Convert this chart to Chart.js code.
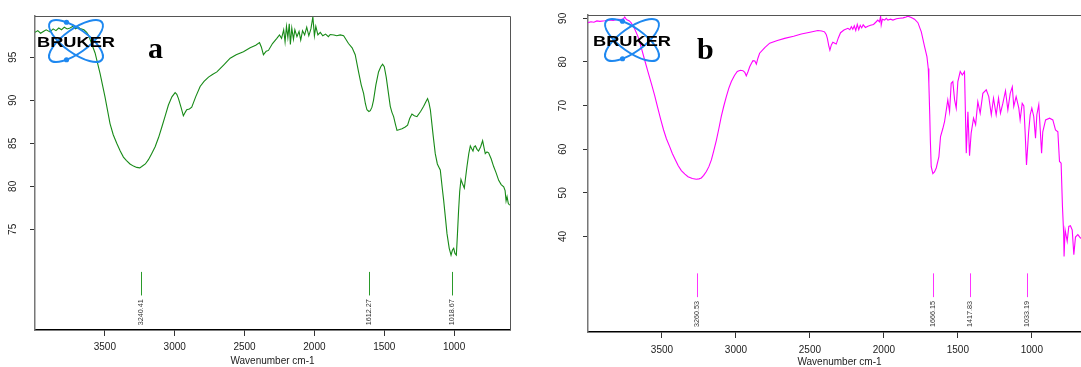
<!DOCTYPE html>
<html><head><meta charset="utf-8">
<script src="https://cdn.jsdelivr.net/npm/chart.js@4.4.1/dist/chart.umd.min.js"></script>
<style>
html,body{margin:0;padding:0;overflow:hidden;background:#fff;width:1081px;height:367px}
#wa{position:absolute;left:0;top:0;width:540px;height:367px}
#wb{position:absolute;left:540px;top:0;width:560px;height:367px}
</style></head><body>
<div id="wa"><canvas id="ca" width="540" height="367"></canvas></div>
<div id="wb"><canvas id="cb" width="560" height="367"></canvas></div>
<script>
const xTicks = [3500, 3000, 2500, 2000, 1500, 1000];
const yTicksA = [75, 80, 85, 90, 95];
const yTicksB = [40, 50, 60, 70, 80, 90];
const peaksA = [3240.41, 1612.27, 1018.67];
const peaksB = [3260.53, 1666.15, 1417.83, 1033.19];

const wnA = [4000,3980,3960,3940,3920,3893,3870,3850,3830,3810,3790,3770,3749,3730,3710,3690,3678,3650,3630,3618,3595,3570,3534,3499,3463,3440,3415,3390,3367,3345,3320,3295,3272,3250,3236,3210,3188,3165,3140,3115,3092,3068,3045,3020,2997,2985,2973,2955,2938,2925,2914,2895,2878,2850,2818,2790,2758,2730,2698,2650,2603,2560,2508,2460,2420,2393,2380,2365,2345,2329,2300,2269,2250,2235,2220,2210,2200,2190,2180,2172,2162,2150,2140,2125,2110,2098,2085,2070,2055,2040,2025,2011,2000,1990,1975,1958,1940,1920,1900,1887,1860,1840,1815,1791,1775,1756,1730,1708,1684,1665,1648,1635,1624,1610,1600,1588,1577,1560,1541,1525,1512,1500,1486,1470,1457,1445,1433,1420,1409,1390,1373,1350,1333,1318,1302,1285,1266,1240,1218,1200,1190,1180,1170,1150,1135,1120,1108,1099,1085,1075,1062,1051,1035,1022,1012,1003,994,984,976,968,960,951,940,927,918,908,895,884,875,865,857,848,836,825,810,796,786,777,765,753,735,717,700,681,663,645,635,628,621,612,602];
const tA = [97.9,98.1,97.8,98.0,98.2,97.95,98.3,98.1,98.4,98.2,98.5,98.3,98.4,98.6,98.3,98.5,98.35,98.2,97.9,97.6,96.6,95.5,93.1,90.4,87.3,86.0,85.0,84.1,83.4,83.0,82.6,82.35,82.2,82.15,82.3,82.6,83.1,83.8,84.6,85.7,86.9,88.2,89.45,90.4,90.9,90.7,90.2,89.2,88.2,88.6,88.9,89.0,89.2,90.4,91.6,92.2,92.7,93.0,93.3,94.1,94.9,95.3,95.65,96.1,96.4,96.7,96.2,95.3,95.7,95.8,96.6,97.2,97.6,97.2,98.2,96.8,98.6,97.3,98.9,96.5,98.4,97.1,98.2,97.4,98.0,97.0,98.1,97.6,98.5,97.5,98.3,99.7,97.5,98.6,97.6,97.9,97.5,97.7,97.4,97.65,97.6,97.5,97.6,97.5,97.1,96.6,96.1,95.3,93.3,91.8,90.8,89.6,88.9,88.7,88.8,89.2,90.0,91.8,93.3,93.9,94.2,93.9,92.7,90.8,89.3,88.6,88.1,87.2,86.5,86.6,86.7,86.9,87.1,87.9,88.4,88.2,88.1,88.7,89.3,89.9,90.2,89.7,88.9,85.9,83.8,82.6,82.2,81.9,79.8,78.4,76.3,74.5,72.8,72.0,72.6,72.8,72.2,72.0,74.5,77.2,79.4,80.8,80.3,79.8,81.0,82.3,83.8,84.7,84.4,84.1,84.6,84.7,84.3,84.1,84.6,85.3,84.5,83.8,84.0,83.9,83.2,82.3,81.6,80.7,80.2,79.95,79.5,78.3,78.8,78.0,77.8];

const wnB = [4000,3980,3960,3940,3920,3887,3860,3830,3797,3775,3760,3752,3740,3720,3707,3685,3662,3640,3617,3595,3572,3550,3531,3510,3489,3470,3448,3430,3409,3390,3369,3345,3324,3295,3268,3250,3234,3218,3200,3183,3166,3150,3132,3115,3099,3082,3065,3048,3031,3010,2991,2970,2953,2940,2930,2918,2907,2895,2885,2872,2862,2852,2840,2805,2772,2720,2671,2610,2558,2500,2446,2420,2401,2390,2382,2372,2365,2355,2345,2332,2322,2308,2293,2270,2243,2230,2220,2210,2200,2190,2180,2170,2160,2150,2140,2125,2108,2090,2070,2055,2041,2030,2022,2018,2010,1995,1984,1973,1955,1939,1915,1894,1870,1850,1838,1815,1793,1770,1747,1725,1709,1700,1696,1690,1686,1680,1669,1658,1646,1628,1617,1601,1590,1578,1568,1556,1545,1534,1522,1511,1500,1484,1470,1455,1443,1432,1421,1410,1394,1380,1365,1349,1331,1308,1291,1274,1259,1241,1225,1212,1196,1178,1162,1146,1132,1122,1106,1088,1079,1065,1054,1045,1036,1022,1011,1000,987,975,966,953,943,934,926,907,880,858,840,824,813,802,793,785,782,775,761,750,739,727,716,705,689,671,650];
const tB = [89.0,89.2,89.1,89.4,89.3,89.45,89.6,89.5,89.8,89.7,89.9,90.3,89.7,89.4,88.9,87.6,85.8,83.3,80.45,77.8,75.1,72.4,69.8,67.0,64.4,62.4,60.6,59.0,57.55,56.2,55.1,54.3,53.7,53.3,53.1,53.2,53.4,54.0,54.9,56.0,57.55,59.6,62.1,64.8,67.5,69.9,72.05,74.0,75.5,76.9,77.8,78.1,78.0,77.6,76.8,77.8,78.9,79.7,80.3,80.2,79.5,80.8,82.0,83.3,84.3,84.9,85.4,85.9,86.4,86.8,87.2,87.1,86.9,86.3,85.4,83.6,82.7,83.9,84.5,84.3,84.1,85.5,86.7,87.3,87.7,87.4,88.1,87.5,88.3,87.2,88.6,87.4,88.4,87.8,88.5,87.9,88.2,88.4,88.6,89.1,89.6,89.2,90.5,88.5,89.8,89.6,90.0,89.6,89.8,89.6,89.9,90.0,90.1,90.3,90.5,90.2,89.8,89.0,86.9,83.5,81.2,78.5,75.1,68.0,62.1,56.0,54.4,54.8,55.7,58.3,62.9,64.8,66.3,69.0,71.3,68.6,75.1,75.5,71.3,69.4,75.5,77.8,77.0,77.8,59.1,68.6,58.5,63.7,67.1,65.6,70.9,68.25,72.8,73.6,72.05,67.9,71.7,67.9,71.7,68.25,70.5,73.4,69.0,72.8,74.3,69.8,72.05,69.4,66.7,70.5,69.9,63.7,56.4,63.7,67.9,69.4,67.5,62.5,67.9,70.2,64.4,59.1,64.0,66.7,67.1,66.7,64.4,64.0,57.2,56.8,46.9,40.8,35.4,41.5,38.9,42.3,42.45,41.5,35.8,39.85,40.4,39.6,39.8];

const FONT = '"Liberation Sans", Arial, sans-serif';

function drawLogo(ctx, cx, cy) {
  ctx.save();
  ctx.strokeStyle = '#1e88f0';
  ctx.fillStyle = '#1e88f0';
  ctx.lineWidth = 2;
  const A = 32, B = 12, TH = 0.62;
  ctx.beginPath(); ctx.ellipse(cx, cy, A, B, TH, 0, Math.PI * 2); ctx.stroke();
  ctx.beginPath(); ctx.ellipse(cx, cy, A, B, -TH, 0, Math.PI * 2); ctx.stroke();
  // dots on the orbits, near their top / bottom
  const pt = (th, t) => [cx + A * Math.cos(t) * Math.cos(th) - B * Math.sin(t) * Math.sin(th),
                         cy + A * Math.cos(t) * Math.sin(th) + B * Math.sin(t) * Math.cos(th)];
  const p1 = pt(TH, Math.PI + 0.95), p2 = pt(-TH, Math.PI - 0.95);
  ctx.beginPath(); ctx.arc(p1[0], p1[1], 2.6, 0, Math.PI * 2); ctx.fill();
  ctx.beginPath(); ctx.arc(p2[0], p2[1], 2.6, 0, Math.PI * 2); ctx.fill();
  ctx.font = 'bold 14px ' + FONT;
  const w = ctx.measureText('BRUKER').width;
  ctx.translate(cx, cy + 5.5);
  ctx.scale(78 / w, 1);
  ctx.fillStyle = '#000';
  ctx.textAlign = 'center';
  ctx.textBaseline = 'alphabetic';
  ctx.fillText('BRUKER', 0, 0);
  ctx.restore();
}

function makeChart(id, o) {
  const deco = {
    id: 'deco' + id,
    afterDatasetsDraw(chart) {
      const ctx = chart.ctx, a = chart.chartArea;
      const xs = chart.scales.x, ys = chart.scales.y;
      const h = a.bottom - a.top;
      ctx.save();
      ctx.strokeStyle = '#555'; ctx.lineWidth = 1;
      ctx.beginPath();
      ctx.moveTo(a.left, a.top + 0.5); ctx.lineTo(a.right + 0.5, a.top + 0.5); ctx.lineTo(a.right + 0.5, a.bottom);
      ctx.stroke();
      ctx.fillStyle = '#222';
      ctx.font = '10px ' + FONT;
      ctx.textAlign = 'center'; ctx.textBaseline = 'middle';
      o.yTicks.forEach(v => {
        const y = ys.getPixelForValue(v);
        ctx.save(); ctx.translate(a.left - o.yLabOff, y); ctx.rotate(-Math.PI / 2);
        ctx.fillText(String(v), 0, 0); ctx.restore();
      });
      o.peaks.forEach(p => {
        const x = Math.round(xs.getPixelForValue(p)) + 0.5;
        ctx.strokeStyle = o.markColor; ctx.lineWidth = 1;
        ctx.beginPath(); ctx.moveTo(x, a.top + 0.815 * h); ctx.lineTo(x, a.top + 0.89 * h); ctx.stroke();
        ctx.save(); ctx.translate(x, a.top + 0.902 * h); ctx.rotate(-Math.PI / 2);
        ctx.fillStyle = '#333'; ctx.font = '7.2px ' + FONT;
        ctx.textAlign = 'right'; ctx.textBaseline = 'middle';
        ctx.fillText(p.toFixed(2), 0, 0); ctx.restore();
      });
      drawLogo(ctx, a.left + o.logo[0], a.top + o.logo[1]);
      ctx.fillStyle = '#000';
      ctx.font = 'bold 30px "Liberation Serif", "Times New Roman", serif';
      ctx.textAlign = 'left'; ctx.textBaseline = 'alphabetic';
      ctx.fillText(o.letter, a.left + o.letterPos[0], a.top + o.letterPos[1]);
      ctx.restore();
    }
  };
  return new Chart(document.getElementById(id), {
    type: 'scatter',
    data: { datasets: [{
      data: o.wn.map((x, i) => ({ x: x, y: o.t[i] })),
      showLine: true, borderColor: o.color, borderWidth: 1.1,
      pointRadius: 0, tension: 0, fill: false
    }]},
    options: {
      responsive: false, animation: false, devicePixelRatio: 1,
      layout: { padding: o.pad },
      plugins: { legend: { display: false }, tooltip: { enabled: false } },
      scales: {
        x: {
          type: 'linear', reverse: true, min: 600, max: 4000,
          afterBuildTicks: s => { s.ticks = xTicks.map(v => ({ value: v })); },
          afterFit: s => { s.height = o.xH; },
          grid: { display: true, drawOnChartArea: false, drawTicks: true, tickLength: 6, tickColor: '#333', tickWidth: 1 },
          border: { display: true, color: '#000', width: 1.5 },
          ticks: { font: { family: FONT, size: 10 }, color: '#222', padding: o.xPad, maxRotation: 0, autoSkip: false, callback: v => String(v) },
          title: { display: true, text: 'Wavenumber cm-1', font: { family: FONT, size: 10, lineHeight: 0.9 }, color: '#222', padding: { top: 0, bottom: o.tPad } }
        },
        y: {
          type: 'linear', min: o.ymin, max: o.ymax,
          afterBuildTicks: s => { s.ticks = o.yTicks.map(v => ({ value: v })); },
          afterFit: s => { s.width = o.yW; },
          grid: { display: true, drawOnChartArea: false, drawTicks: true, tickLength: 5, tickColor: '#333', tickWidth: 1 },
          border: { display: true, color: '#777', width: 1.5 },
          ticks: { display: false }
        }
      }
    },
    plugins: [deco]
  });
}

makeChart('ca', {
  wn: wnA, t: tA, color: '#178a17', markColor: '#2a9a2a', yTicks: yTicksA, ymin: 63.3, ymax: 99.8, peaks: peaksA,
  pad: { top: 16, right: 30, left: 0, bottom: 0 }, yW: 35, xH: 37, yLabOff: 22, xPad: 5.5, tPad: 1.5,
  logo: [41, 25], letter: 'a', letterPos: [113, 42]
});
makeChart('cb', {
  wn: wnB, t: tB, color: '#ff00ff', markColor: '#ff33ff', yTicks: yTicksB, ymin: 18.1, ymax: 90.76, peaks: peaksB,
  pad: { top: 15, right: 9, left: 0, bottom: 0 }, yW: 48, xH: 35, yLabOff: 25, xPad: 6, tPad: 0,
  logo: [44, 25], letter: 'b', letterPos: [109, 44]
});
</script>
</body></html>
